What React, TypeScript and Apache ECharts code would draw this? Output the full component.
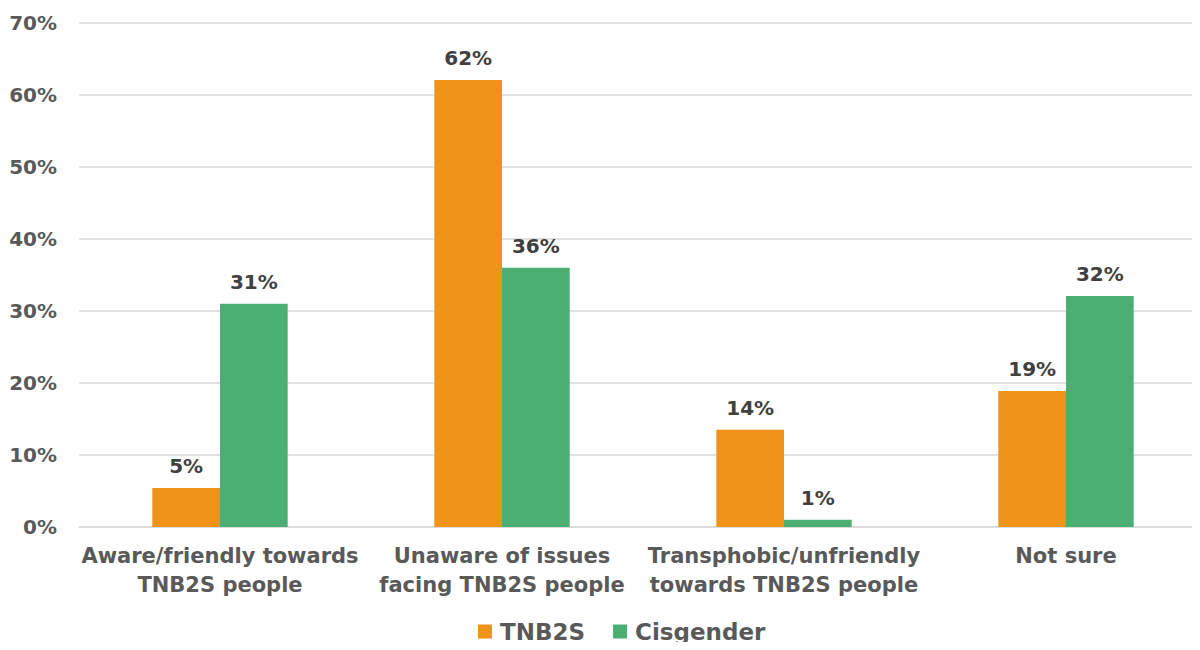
import React, { useEffect, useRef } from "react";
import * as echarts from "echarts";

const categories = [
  "Aware/friendly towards\nTNB2S people",
  "Unaware of issues\nfacing TNB2S people",
  "Transphobic/unfriendly\ntowards TNB2S people",
  "Not sure",
];
const tnb2s = [5.4, 62.1, 13.5, 18.9];
const cisgender = [31.0, 36.0, 1.0, 32.1];
const seriesNames = ["TNB2S", "Cisgender"];
const colors = ["#EF9418", "#4BAE72"];

const FONT = "DejaVu Sans";

export default function App() {
  const ref = useRef<HTMLDivElement>(null);
  useEffect(() => {
    if (!ref.current) return;
    const chart = echarts.init(ref.current, undefined, { renderer: "svg" });
    const label = {
      show: true,
      position: "top",
      distance: 12,
      formatter: (p: any) => Math.round(p.value) + "%",
      color: "#404040",
      fontFamily: FONT,
      fontWeight: "bold",
      fontSize: 20,
    };
    chart.setOption({
      animation: false,
      grid: { left: 79, right: 0, top: 23, bottom: 650 - 527 },
      legend: {
        bottom: 2,
        left: 473,
        itemWidth: 14,
        itemHeight: 14,
        itemGap: 28,
        icon: "rect",
        textStyle: {
          color: "#595959",
          fontFamily: FONT,
          fontWeight: "bold",
          fontSize: 23,
          padding: [0, 0, 0, 3],
        },
        data: seriesNames,
      },
      xAxis: {
        type: "category",
        data: categories,
        axisLine: { lineStyle: { color: "#d9d9d9", width: 1.5 } },
        axisTick: { show: false },
        axisLabel: {
          color: "#595959",
          fontFamily: FONT,
          fontWeight: "bold",
          fontSize: 21,
          lineHeight: 29,
          margin: 14,
          interval: 0,
        },
      },
      yAxis: {
        type: "value",
        min: 0,
        max: 70,
        interval: 10,
        axisLabel: {
          formatter: "{value}%",
          color: "#595959",
          fontFamily: FONT,
          fontWeight: "bold",
          fontSize: 20,
          margin: 22,
        },
        splitLine: { lineStyle: { color: "#d9d9d9", width: 1.5 } },
        axisLine: { show: false },
        axisTick: { show: false },
      },
      series: [
        {
          name: seriesNames[0],
          type: "bar",
          data: tnb2s,
          itemStyle: { color: colors[0] },
          barGap: "0%",
          barCategoryGap: "52%",
          label,
        },
        {
          name: seriesNames[1],
          type: "bar",
          data: cisgender,
          itemStyle: { color: colors[1] },
          barGap: "0%",
          barCategoryGap: "52%",
          label,
        },
      ],
    });
    return () => chart.dispose();
  }, []);
  return (
    <div style={{ width: 1200, height: 650, margin: -8, overflow: "hidden" }}>
      <div ref={ref} style={{ width: 1207, height: 650 }} />
    </div>
  );
}
